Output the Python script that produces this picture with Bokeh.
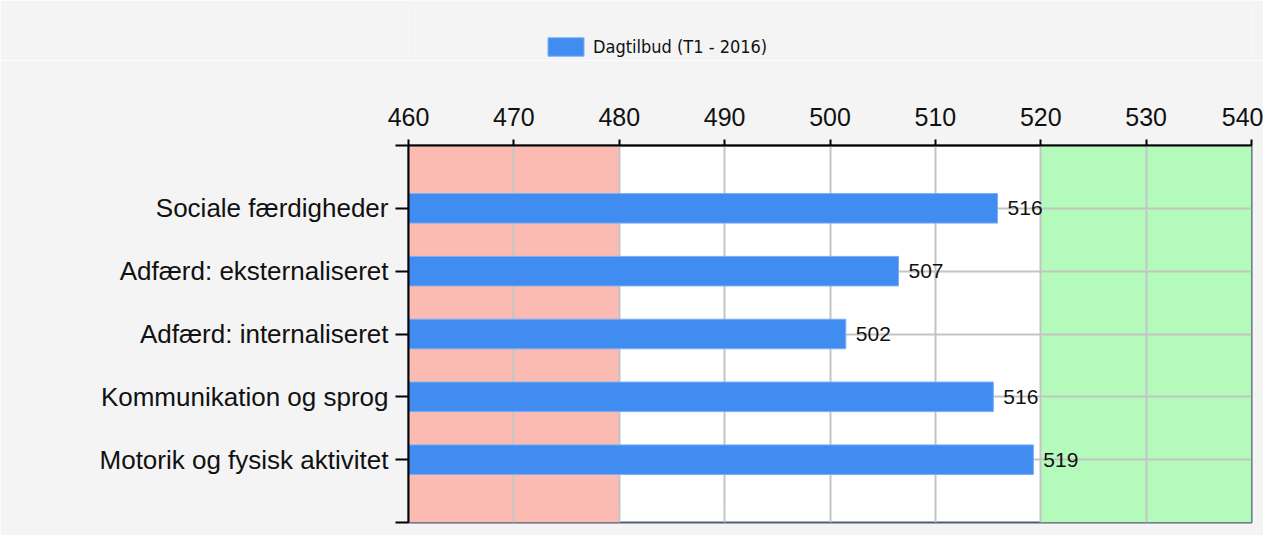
from bokeh.plotting import figure
from bokeh.layouts import column
from bokeh.models import (Range1d, FixedTicker, BoxAnnotation, Legend, LegendItem,
                          ColumnDataSource, LabelSet)
from bokeh.core.properties import value
from bokeh.embed import file_html
from bokeh.resources import INLINE

categories = ["Sociale færdigheder", "Adfærd: eksternaliseret", "Adfærd: internaliseret",
              "Kommunikation og sprog", "Motorik og fysisk aktivitet"]
values = [515.9, 506.5, 501.5, 515.5, 519.3]
value_labels = ["516", "507", "502", "516", "519"]
x_ticks = [460, 470, 480, 490, 500, 510, 520, 530, 540]
series_name = "Dagtilbud (T1 - 2016)"
low_band = [460, 480]
high_band = [520, 540]

BAR_FILL = "#418cf0"
BAR_LINE = "#79aef5"
BG = "#f4f4f4"
W = 1263
LEG_H = 60

n = len(categories)
ypos = [i + 1 for i in range(n)]

src = ColumnDataSource(dict(y=ypos, value=values, label=value_labels, cat=categories))

# ---- legend strip (frame is aligned with the main chart's frame by the column) ----
lf = figure(width=W, height=LEG_H, output_backend="svg", toolbar_location=None,
            x_axis_type=None, y_axis_type=None,
            x_range=Range1d(x_ticks[0], x_ticks[-1]), y_range=Range1d(100, 101),
            min_border_left=0, min_border_right=0, min_border_top=0, min_border_bottom=0)
lf.border_fill_color = BG
lf.background_fill_color = BG
lf.outline_line_color = None
lf.xgrid.visible = False
lf.ygrid.visible = False
# same series drawn outside this strip's visible range: only its legend entry shows
leg_r = lf.hbar(y="y", right="value", left=x_ticks[0], height=0.47, source=src,
                fill_color=BAR_FILL, line_color=BAR_LINE, line_width=1)
legend = Legend(items=[LegendItem(label=series_name, renderers=[leg_r])],
                location=(135, 2), orientation="horizontal",
                glyph_width=45, glyph_height=23, padding=0, margin=0, spacing=0,
                label_standoff=5, border_line_alpha=0, background_fill_alpha=0,
                label_text_font="DejaVu Sans Condensed", label_text_font_size="18px",
                label_text_color="#111111")
lf.add_layout(legend, "center")

# ---- main chart ----
p = figure(width=W, height=535 - LEG_H, output_backend="svg", toolbar_location=None,
           x_axis_location="above",
           x_range=Range1d(x_ticks[0], x_ticks[-1]), y_range=Range1d(n + 1, 0),
           min_border_left=408, min_border_top=145 - LEG_H, min_border_right=12,
           min_border_bottom=13)
p.border_fill_color = BG
p.background_fill_color = "white"
p.outline_line_color = "#4f5f75"
p.outline_line_width = 2

p.add_layout(BoxAnnotation(left=low_band[0], right=low_band[1], fill_color="#fbbbb3",
                           fill_alpha=1, line_alpha=0, level="image"))
p.add_layout(BoxAnnotation(left=high_band[0], right=high_band[1], fill_color="#b4fbbb",
                           fill_alpha=1, line_alpha=0, level="image"))

p.xgrid.ticker = FixedTicker(ticks=x_ticks)
p.xgrid.grid_line_color = "#c4c4c4"
p.xgrid.grid_line_width = 2
p.ygrid.ticker = FixedTicker(ticks=ypos)
p.ygrid.grid_line_color = "#c4c4c4"
p.ygrid.grid_line_width = 2

xa = p.xaxis[0]
xa.ticker = FixedTicker(ticks=x_ticks)
xa.major_tick_out = 6
xa.major_tick_in = 0
xa.minor_tick_out = 0
xa.minor_tick_in = 0
xa.axis_line_width = 2
xa.major_tick_line_width = 2
xa.major_label_standoff = 14
xa.major_label_text_font = "Liberation Sans"
xa.major_label_text_font_size = "25px"
xa.major_label_text_color = "#111111"

ya = p.yaxis[0]
ya.ticker = FixedTicker(ticks=list(range(0, n + 2)))
overrides = {0: "", n + 1: ""}
for yy, c in zip(ypos, categories):
    overrides[yy] = c
ya.major_label_overrides = overrides
ya.major_tick_out = 13
ya.major_tick_in = 0
ya.minor_tick_out = 0
ya.minor_tick_in = 0
ya.axis_line_width = 2
ya.major_tick_line_width = 2
ya.major_label_standoff = 7
ya.major_label_text_font = "Liberation Sans"
ya.major_label_text_font_size = "26px"
ya.major_label_text_color = "#111111"

r = p.hbar(y="y", right="value", left=x_ticks[0], height=0.47, source=src,
           fill_color=BAR_FILL, line_color=BAR_LINE, line_width=1)

labels = LabelSet(x="value", y="y", text="label", source=src, x_offset=10,
                  text_baseline="middle", text_align="left",
                  text_font=value("Liberation Sans"), text_font_size="21px",
                  text_color="#111111")
p.add_layout(labels)

layout = column(lf, p, spacing=0)
open("out.html", "w").write(file_html(layout, INLINE))
